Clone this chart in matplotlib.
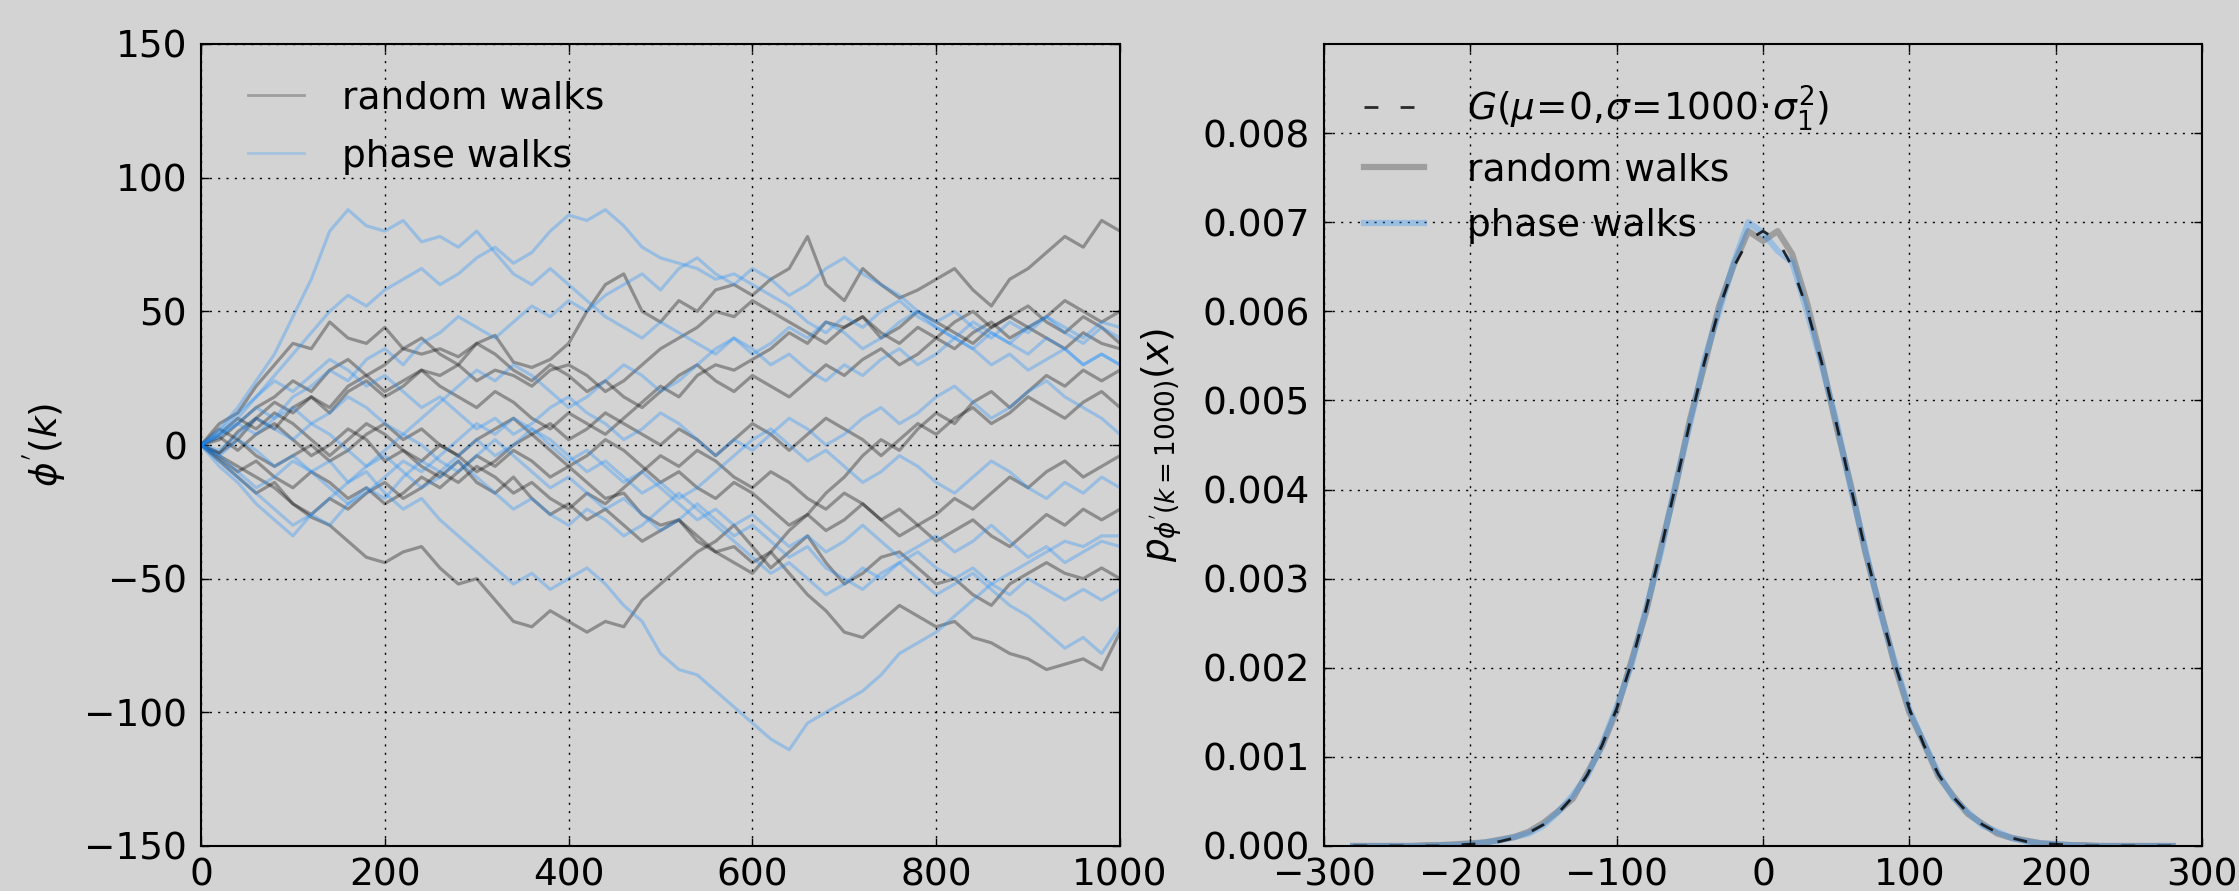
import matplotlib
matplotlib.use("Agg")
import matplotlib.pyplot as plt
import numpy as np

# random walks (black), values read every 20 steps, k = 0..1000
rw1 = [0, 8, 12, 22, 30, 38, 36, 46, 40, 38, 44, 36, 34, 36, 33, 38, 41, 31, 29, 32,
       38, 50, 60, 64, 50, 46, 54, 50, 58, 60, 56, 62, 66, 78, 60, 54, 66, 60, 55, 58,
       62, 66, 58, 52, 62, 66, 72, 78, 74, 84, 80]
rw2 = [0, -3, 5, 10, 6, 14, 18, 12, 20, 24, 18, 22, 28, 26, 30, 24, 28, 26, 22, 28,
       30, 26, 20, 24, 30, 36, 40, 44, 50, 48, 54, 50, 46, 42, 38, 44, 48, 40, 44, 50,
       46, 42, 38, 44, 48, 44, 40, 36, 42, 38, 36]
rw3 = [0, -4, -8, -12, -16, -22, -27, -30, -36, -42, -44, -40, -38, -46, -52, -50, -58, -66, -68, -62,
       -66, -70, -66, -68, -58, -52, -46, -40, -36, -30, -38, -46, -40, -34, -44, -52, -48, -42, -40, -46,
       -52, -50, -56, -60, -52, -48, -44, -48, -50, -46, -50]
rw4 = [0, 3, -2, 4, 8, 2, -4, 0, 6, 2, -6, -2, -8, -12, -6, -14, -18, -12, -20, -26,
       -22, -28, -24, -30, -36, -32, -28, -34, -40, -38, -44, -40, -48, -56, -62, -70, -72, -66, -60, -64,
       -68, -66, -72, -74, -78, -80, -84, -82, -80, -84, -70]
rw5 = [0, -5, -10, -6, -12, -16, -10, -14, -20, -16, -22, -18, -12, -16, -10, -4, -8, -2, -6, -12,
       -8, -14, -20, -18, -26, -30, -28, -36, -40, -44, -48, -40, -32, -26, -18, -12, -4, 2, -2, 6,
       12, 8, 16, 20, 14, 20, 26, 22, 28, 24, 28]
rw6 = [0, 6, 2, 10, 16, 12, 18, 14, 22, 26, 20, 24, 28, 22, 18, 14, 20, 16, 10, 6,
       12, 8, 4, 10, 16, 22, 18, 26, 30, 28, 32, 36, 42, 38, 46, 44, 48, 42, 38, 44,
       40, 46, 50, 44, 48, 52, 46, 42, 48, 44, 38]
rw7 = [0, -6, -12, -18, -14, -22, -26, -20, -24, -18, -14, -20, -16, -10, -14, -8, -12, -18, -14, -20,
       -24, -18, -22, -16, -10, -4, -8, -2, -6, -12, -16, -10, -14, -20, -24, -18, -22, -28, -24, -30,
       -26, -20, -24, -18, -12, -16, -10, -6, -12, -8, -4]
rw8 = [0, 4, 10, 6, 12, 8, 2, -4, 2, 8, 4, -2, -6, 0, -4, -10, -6, 0, 4, -2,
       -8, -4, 2, -2, -8, -14, -10, -16, -20, -14, -18, -24, -30, -26, -32, -28, -22, -28, -34, -30,
       -36, -32, -28, -34, -38, -32, -26, -30, -24, -28, -24]
rw9 = [0, 2, 8, 14, 18, 24, 20, 28, 32, 26, 30, 36, 40, 34, 30, 38, 34, 28, 24, 30,
       26, 20, 24, 18, 14, 20, 26, 30, 24, 20, 26, 22, 18, 24, 30, 26, 32, 36, 30, 34,
       40, 36, 42, 46, 40, 44, 48, 54, 50, 46, 50]
rw10 = [0, -3, 2, -4, -8, -4, 0, -6, -2, 4, 8, 2, 6, 0, -4, 2, 6, 10, 4, 8,
        2, 6, 12, 8, 4, 0, 6, 2, -4, 2, 8, 4, -2, 4, 10, 6, 2, -4, 2, 8,
        4, 10, 14, 8, 12, 18, 14, 10, 16, 20, 14]

# phase walks (blue)
pw1 = [0, 6, 14, 24, 34, 48, 62, 80, 88, 82, 80, 84, 76, 78, 74, 80, 72, 64, 60, 66,
       60, 54, 48, 44, 40, 46, 42, 38, 34, 40, 36, 30, 34, 28, 24, 30, 26, 32, 36, 30,
       34, 40, 36, 30, 34, 28, 32, 36, 30, 34, 30]
pw2 = [0, 4, 10, 18, 26, 34, 42, 50, 56, 52, 58, 62, 66, 60, 64, 70, 74, 68, 72, 80,
       86, 84, 88, 82, 74, 70, 68, 66, 62, 64, 60, 56, 52, 46, 42, 48, 44, 50, 54, 48,
       44, 40, 46, 42, 38, 44, 48, 42, 38, 44, 40]
pw3 = [0, -4, 2, -2, -8, -4, -10, -6, -14, -10, -18, -24, -20, -28, -34, -40, -46, -52, -48, -54,
       -50, -46, -52, -60, -66, -78, -84, -86, -92, -98, -104, -110, -114, -104, -100, -96, -92, -86, -78, -74,
       -70, -64, -58, -52, -48, -44, -40, -36, -38, -34, -34]
pw4 = [0, -6, -12, -18, -24, -30, -26, -20, -14, -8, -2, 4, 0, -6, -10, -4, 2, -4, -10, -16,
       -12, -18, -24, -20, -26, -32, -28, -22, -28, -34, -30, -36, -42, -38, -46, -50, -54, -48, -44, -50,
       -56, -52, -48, -54, -60, -64, -70, -76, -72, -78, -68]
pw5 = [0, -8, -14, -22, -28, -34, -26, -30, -22, -16, -20, -12, -6, -10, -4, 2, -4, 0, 6, 2,
       -4, -10, -6, -12, -18, -14, -20, -16, -10, -4, 2, 6, 0, -6, -2, -8, -14, -10, -4, -8,
       -14, -18, -12, -6, -10, -16, -20, -14, -18, -12, -16]
pw6 = [0, 4, 8, 14, 10, 18, 22, 28, 24, 32, 36, 30, 38, 42, 48, 44, 40, 46, 52, 48,
       54, 50, 56, 60, 64, 58, 66, 70, 64, 60, 66, 62, 56, 60, 66, 70, 64, 60, 56, 50,
       46, 50, 44, 40, 46, 42, 48, 44, 40, 46, 44]
pw7 = [0, 3, 8, 4, 10, 14, 8, 12, 18, 14, 8, 4, 10, 16, 22, 28, 24, 30, 26, 20,
       14, 18, 24, 30, 26, 20, 24, 30, 36, 40, 34, 38, 44, 40, 46, 42, 36, 40, 46, 50,
       44, 40, 36, 42, 38, 34, 40, 36, 30, 34, 30]
pw8 = [0, -2, 4, 10, 6, 2, 8, 4, -2, -8, -4, -10, -16, -12, -6, -12, -18, -24, -20, -26,
       -30, -24, -28, -34, -30, -24, -18, -24, -30, -36, -42, -48, -44, -50, -56, -52, -46, -50, -44, -40,
       -46, -50, -46, -52, -56, -50, -54, -58, -54, -58, -54]
pw9 = [0, 5, 12, 18, 24, 20, 26, 32, 28, 22, 26, 20, 14, 18, 12, 6, 10, 4, 8, 14,
       18, 12, 8, 2, 6, 12, 8, 2, -4, 2, -2, 4, 10, 6, 0, 4, 10, 14, 8, 12,
       18, 22, 16, 10, 14, 20, 24, 18, 14, 10, 4]
pw10 = [0, -4, -10, -16, -12, -6, -10, -16, -22, -18, -12, -6, -10, -4, 2, 8, 4, 10, 6, 0,
        -6, -2, -8, -14, -10, -16, -22, -28, -24, -30, -26, -32, -38, -34, -40, -36, -30, -36, -42, -38,
        -34, -40, -36, -30, -36, -42, -38, -44, -40, -36, -38]

random_walks = [rw1, rw2, rw3, rw4, rw5, rw6, rw7, rw8, rw9, rw10]
phase_walks = [pw1, pw2, pw3, pw4, pw5, pw6, pw7, pw8, pw9, pw10]

# distribution at k = 1000
pdf_x = list(range(-280, 281, 10))
gauss_pdf = [0, 0, 0, 0, 0, 0, 0, 0.00001, 0.00002, 0.00003, 0.00005, 0.00009, 0.00015, 0.00024,
             0.00037, 0.00055, 0.00080, 0.00113, 0.00154, 0.00205, 0.00265, 0.00331, 0.00403,
             0.00475, 0.00543, 0.00603, 0.00650, 0.00680, 0.00690, 0.00680, 0.00650, 0.00603,
             0.00543, 0.00475, 0.00403, 0.00331, 0.00265, 0.00205, 0.00154, 0.00113, 0.00080,
             0.00055, 0.00037, 0.00024, 0.00015, 0.00009, 0.00005, 0.00003, 0.00002, 0.00001,
             0, 0, 0, 0, 0, 0, 0]
rw_pdf = [0, 0, 0, 0, 0, 0.00001, 0.00001, 0.00002, 0.00003, 0.00004, 0.00007, 0.00010, 0.00016, 0.00026,
          0.00039, 0.00053, 0.00082, 0.00112, 0.00152, 0.00207, 0.00262, 0.00333, 0.00401,
          0.00478, 0.00540, 0.00606, 0.00652, 0.00690, 0.00679, 0.00690, 0.00664, 0.00610,
          0.00545, 0.00472, 0.00405, 0.00329, 0.00267, 0.00203, 0.00150, 0.00115, 0.00078,
          0.00056, 0.00036, 0.00025, 0.00014, 0.00009, 0.00006, 0.00003, 0.00002, 0.00001,
          0.00001, 0, 0, 0, 0, 0, 0]
pw_pdf = [0, 0, 0, 0, 0, 0, 0.00001, 0.00001, 0.00002, 0.00004, 0.00006, 0.00010, 0.00014, 0.00023,
          0.00038, 0.00057, 0.00079, 0.00114, 0.00156, 0.00203, 0.00266, 0.00328, 0.00405,
          0.00473, 0.00546, 0.00600, 0.00655, 0.00700, 0.00688, 0.00668, 0.00655, 0.00600,
          0.00541, 0.00477, 0.00401, 0.00333, 0.00263, 0.00207, 0.00153, 0.00116, 0.00081,
          0.00054, 0.00038, 0.00023, 0.00016, 0.00009, 0.00005, 0.00003, 0.00002, 0.00001,
          0, 0, 0, 0, 0, 0, 0]

bg = "#d3d3d3"
blue = "#1e90ff"
fs = 27

plt.rcParams["font.family"] = "DejaVu Sans"
plt.rcParams["mathtext.fontset"] = "dejavusans"

fig = plt.figure(figsize=(22.39, 8.91), dpi=100, facecolor=bg)
ax1 = fig.add_axes([201 / 2239, 45 / 891, 919 / 2239, 802 / 891], facecolor=bg)
ax2 = fig.add_axes([1324 / 2239, 45 / 891, 878 / 2239, 802 / 891], facecolor=bg)

for w in random_walks:
    ax1.plot(np.linspace(0, 1000, len(w)), w, color="black", alpha=0.33, lw=2.3)
for w in phase_walks:
    ax1.plot(np.linspace(0, 1000, len(w)), w, color=blue, alpha=0.32, lw=2.3)
h1, = ax1.plot([], [], color="black", alpha=0.25, lw=2, label="random walks")
h2, = ax1.plot([], [], color=blue, alpha=0.25, lw=2, label="phase walks")
ax1.set_xlim(0, 1000)
ax1.set_ylim(-150, 150)
ax1.set_xticks(range(0, 1001, 200))
ax1.set_yticks(range(-150, 151, 50))
ax1.set_ylabel(r"$\phi^{'}(k)$", size=fs)
ax1.yaxis.set_label_coords(-0.145, 0.5)
ax1.legend(handles=[h1, h2], loc="upper left", bbox_to_anchor=(0.051, 0.955), frameon=False,
           fontsize=fs, handlelength=1.5, handletextpad=1.0, labelspacing=0.6, borderpad=0,
           borderaxespad=0)

l_rw, = ax2.plot(pdf_x, rw_pdf, color="black", alpha=0.25, lw=4.5, label="random walks")
l_pw, = ax2.plot(pdf_x, pw_pdf, color=blue, alpha=0.3, lw=4.5, label="phase walks")
l_g, = ax2.plot(pdf_x, gauss_pdf, color="black", alpha=0.8, lw=2, dashes=(5, 8),
                label=r"$G(\mu\!=\!0,\!\sigma\!=\!1000\!\cdot\!\sigma_1^2)$")
ax2.set_xlim(-300, 300)
ax2.set_ylim(0, 0.009)
ax2.set_xticks(range(-300, 301, 100))
ax2.set_yticks([0.000, 0.001, 0.002, 0.003, 0.004, 0.005, 0.006, 0.007, 0.008])
ax2.set_yticklabels(["%.3f" % v for v in ax2.get_yticks()])
ax2.set_ylabel(r"$p_{\phi^{'}(k=1000)}(x)$", size=fs)
ax2.yaxis.set_label_coords(-0.16, 0.5)
ax2.legend(handles=[l_g, l_rw, l_pw], loc="upper left", bbox_to_anchor=(0.045, 0.951), frameon=False,
           fontsize=fs, handlelength=1.6, handletextpad=1.15, labelspacing=0.52, borderpad=0,
           borderaxespad=0)

for ax in (ax1, ax2):
    ax.grid(True, color="black", linestyle=(0, (1.5, 4.5)), linewidth=1)
    ax.tick_params(direction="in", length=6, width=1, top=True, right=True, labelsize=fs)
    ax.tick_params(axis="x", pad=8)
    ax.tick_params(axis="y", pad=10)
    for s in ax.spines.values():
        s.set_linewidth(1.5)

fig.savefig("out.png", dpi=100, facecolor=bg)
